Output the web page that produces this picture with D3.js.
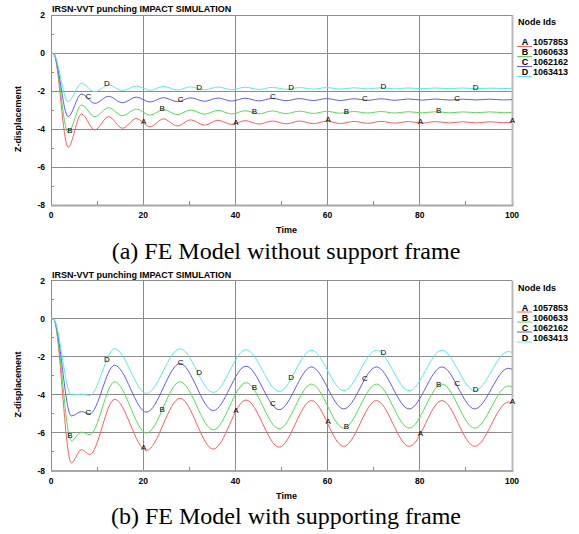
<!DOCTYPE html>
<html>
<head>
<meta charset="utf-8">
<script src="https://cdn.jsdelivr.net/npm/d3@7"></script>
<style>
  html, body { margin: 0; padding: 0; background: #ffffff; }
  svg { display: block; }
  .sans { font-family: "Liberation Sans", Arial, Helvetica, sans-serif; }
  .serif { font-family: "Liberation Serif", "Times New Roman", Times, serif; }
</style>
</head>
<body>
<svg id="chart" width="579" height="534"></svg>
<script>
// ---------- data ----------
const chartTitle = "IRSN-VVT punching IMPACT SIMULATION";
const captions = ["(a) FE Model without support frame", "(b) FE Model with supporting frame"];
const letters = ["A", "B", "C", "D"];
const nodeIds = ["1057853", "1060633", "1062162", "1063413"];
const xTicks = [0, 20, 40, 60, 80, 100];
const xMinorTicks = [10, 30, 50, 70, 90];
const yTicks = [2, 0, -2, -4, -6, -8];
const yMinorTicks = [1, -1, -3, -5, -7];
const labelTimesA = [20, 40, 60, 80, 100];
const labelTimesB = [4, 24, 44, 64, 84];
const labelTimesC = [8, 28, 48, 68, 88];
const labelTimesD = [12, 32, 52, 72, 92];

// (a) without support frame
const topTime  = [0, 0.6, 3.7, 6.6, 9.5, 12.5, 15.5, 18.5, 21.5, 24.4, 27.4, 30.3, 33.3, 36.2, 39.2, 42.1, 45.1, 48.0, 51.0, 53.9, 56.9, 59.8, 62.8, 65.7, 68.7, 71.6, 74.6, 77.5, 80.5, 83.4, 86.4, 89.3, 92.3, 95.2, 98.2, 100];
const topNodeA = [0, -0.05, -4.96, -3.21, -4.05, -3.35, -3.96, -3.45, -3.88, -3.47, -3.84, -3.52, -3.80, -3.54, -3.76, -3.56, -3.74, -3.58, -3.73, -3.58, -3.72, -3.59, -3.71, -3.60, -3.70, -3.60, -3.69, -3.61, -3.69, -3.61, -3.68, -3.62, -3.68, -3.62, -3.67, -3.64];
const topNodeB = [0, -0.05, -4.19, -2.74, -3.35, -2.88, -3.30, -2.95, -3.27, -2.98, -3.24, -3.00, -3.22, -3.02, -3.21, -3.04, -3.20, -3.05, -3.19, -3.06, -3.18, -3.07, -3.17, -3.08, -3.16, -3.08, -3.16, -3.09, -3.15, -3.09, -3.15, -3.10, -3.14, -3.10, -3.14, -3.12];
const topNodeC = [0, -0.05, -3.35, -2.16, -2.65, -2.28, -2.62, -2.32, -2.58, -2.35, -2.56, -2.36, -2.54, -2.37, -2.53, -2.38, -2.52, -2.39, -2.51, -2.40, -2.50, -2.40, -2.50, -2.41, -2.49, -2.41, -2.49, -2.42, -2.48, -2.42, -2.48, -2.43, -2.47, -2.43, -2.47, -2.45];
const topNodeD = [0, -0.05, -2.56, -1.60, -2.04, -1.68, -1.98, -1.74, -1.96, -1.76, -1.95, -1.78, -1.94, -1.79, -1.93, -1.80, -1.92, -1.81, -1.91, -1.82, -1.90, -1.82, -1.90, -1.83, -1.89, -1.83, -1.89, -1.84, -1.88, -1.84, -1.88, -1.84, -1.88, -1.85, -1.87, -1.86];

// (b) with supporting frame
const botTime  = [0, 0.6, 4.4, 6.6, 8.4, 13.8, 20.7, 28.0, 35.2, 42.3, 49.5, 56.5, 63.5, 70.6, 77.7, 84.8, 91.9, 99.2, 100];
const botNodeA = [0, -0.05, -7.6, -6.9, -7.16, -4.25, -6.94, -4.2, -6.87, -4.29, -6.77, -4.32, -6.73, -4.32, -6.73, -4.32, -6.73, -4.4, -4.44];
const botNodeB = [0, -0.05, -6.43, -5.98, -6.12, -3.33, -6.03, -3.33, -5.86, -3.38, -5.8, -3.45, -5.77, -3.45, -5.77, -3.45, -5.77, -3.55, -3.6];
const botNodeC = [0, -0.05, -5.13, -4.9, -5.02, -2.46, -4.93, -2.37, -4.85, -2.51, -4.8, -2.55, -4.76, -2.55, -4.76, -2.55, -4.76, -2.62, -2.67];
const botNodeD = [0, -0.05, -4.03, -3.98, -4.05, -1.59, -3.94, -1.59, -3.89, -1.64, -3.84, -1.67, -3.8, -1.67, -3.8, -1.67, -3.8, -1.74, -1.79];

const colors = ["#ff5c5c", "#52e052", "#5c5cf5", "#52eeee"];
const labelTimes = [labelTimesA, labelTimesB, labelTimesC, labelTimesD];

// ---------- drawing ----------
const svg = d3.select("#chart");

function drawPanel(offsetY, time, seriesList, caption) {
  const x = d3.scaleLinear().domain([0, 100]).range([51, 512]);
  const y = d3.scaleLinear().domain([-8, 2]).range([205 + offsetY, 15 + offsetY]);
  const g = svg.append("g");

  // grid
  g.selectAll(".vgrid").data(xTicks.slice(1, -1)).enter().append("line")
    .attr("x1", d => x(d)).attr("x2", d => x(d))
    .attr("y1", y(2)).attr("y2", y(-8))
    .attr("stroke", "#8c8c8c").attr("stroke-width", 1).attr("shape-rendering", "crispEdges");
  g.selectAll(".hgrid").data(yTicks.slice(1, -1)).enter().append("line")
    .attr("x1", x(0)).attr("x2", x(100))
    .attr("y1", d => y(d)).attr("y2", d => y(d))
    .attr("stroke", "#8c8c8c").attr("stroke-width", 1).attr("shape-rendering", "crispEdges");

  // frame
  g.append("line").attr("x1", x(0)).attr("x2", x(100)).attr("y1", y(2)).attr("y2", y(2))
    .attr("stroke", "#8c8c8c").attr("shape-rendering", "crispEdges");
  g.append("line").attr("x1", x(100) + 0.5).attr("x2", x(100) + 0.5).attr("y1", y(2)).attr("y2", y(-8))
    .attr("stroke", "#b8b8b8").attr("stroke-width", 2);
  g.append("line").attr("x1", x(0)).attr("x2", x(0)).attr("y1", y(2)).attr("y2", y(-8))
    .attr("stroke", "#8c8c8c").attr("shape-rendering", "crispEdges");
  g.append("line").attr("x1", x(0)).attr("x2", x(100) + 1.5).attr("y1", y(-8) + 0.5).attr("y2", y(-8) + 0.5)
    .attr("stroke", "#a8a8a8").attr("stroke-width", 2);

  // minor ticks
  g.selectAll(".ymin").data(yMinorTicks).enter().append("line")
    .attr("x1", x(0)).attr("x2", x(0) + 3).attr("y1", d => y(d)).attr("y2", d => y(d))
    .attr("stroke", "#8c8c8c").attr("shape-rendering", "crispEdges");
  g.selectAll(".xmin").data(xMinorTicks).enter().append("line")
    .attr("x1", d => x(d)).attr("x2", d => x(d)).attr("y1", y(-8)).attr("y2", y(-8) - 4)
    .attr("stroke", "#8c8c8c").attr("shape-rendering", "crispEdges");

  // tick labels
  g.selectAll(".ylab").data(yTicks).enter().append("text").attr("class", "sans")
    .attr("x", 45).attr("y", d => y(d) + 3)
    .attr("text-anchor", "end").attr("font-weight", "bold").attr("font-size", "8.5px")
    .text(d => d);
  g.selectAll(".xlab").data(xTicks).enter().append("text").attr("class", "sans")
    .attr("x", d => x(d)).attr("y", y(-8) + 13)
    .attr("text-anchor", "middle").attr("font-weight", "bold").attr("font-size", "8.5px")
    .text(d => d);

  // title
  g.append("text").attr("class", "sans").attr("x", 52).attr("y", 12 + offsetY)
    .attr("font-weight", "bold").attr("font-size", "9px")
    .text(chartTitle);

  // axis titles
  g.append("text").attr("class", "sans").attr("x", 286.5).attr("y", 233 + offsetY)
    .attr("text-anchor", "middle").attr("font-weight", "bold").attr("font-size", "9px")
    .text("Time");
  g.append("text").attr("class", "sans")
    .attr("transform", `translate(21, ${119 + offsetY}) rotate(-90)`)
    .attr("text-anchor", "middle").attr("font-weight", "bold").attr("font-size", "9px")
    .text("Z-displacement");

  // curves
  const line = d3.line().x(d => x(d[0])).y(d => y(d[1])).curve(d3.curveMonotoneX);
  seriesList.forEach((vals, i) => {
    const pts = time.map((t, k) => [t, vals[k]]);
    const path = g.append("path").datum(pts)
      .attr("d", line).attr("fill", "none").attr("stroke", colors[i]).attr("stroke-width", 1);
    const node = path.node();
    const total = node.getTotalLength();
    labelTimes[i].forEach(t => {
      const tx = x(t);
      let lo = 0, hi = total;
      for (let it = 0; it < 40; it++) {
        const mid = (lo + hi) / 2;
        if (node.getPointAtLength(mid).x < tx) lo = mid; else hi = mid;
      }
      const p = node.getPointAtLength((lo + hi) / 2);
      g.append("text").attr("class", "sans").attr("x", p.x + 0.5).attr("y", p.y + 1)
        .attr("text-anchor", "middle").attr("font-size", "8px")
        .attr("fill", "#000").text(letters[i]);
    });
  });

  // legend
  g.append("text").attr("class", "sans").attr("x", 518).attr("y", 25 + offsetY)
    .attr("font-weight", "bold").attr("font-size", "9px").text("Node Ids");
  letters.forEach((L, i) => {
    const by = 45 + i * 10 + offsetY;
    g.append("line").attr("x1", 517).attr("x2", 532).attr("y1", by + 1.5).attr("y2", by + 1.5)
      .attr("stroke", colors[i]).attr("stroke-width", 1);
    g.append("text").attr("class", "sans").attr("x", 525).attr("y", by).attr("text-anchor", "middle")
      .attr("font-weight", "bold").attr("font-size", "9px").text(L);
    g.append("text").attr("class", "sans").attr("x", 533).attr("y", by)
      .attr("font-weight", "bold").attr("font-size", "9px").text(nodeIds[i]);
  });

  // caption
  g.append("text").attr("class", "serif").attr("x", 286).attr("y", 258.5 + offsetY)
    .attr("text-anchor", "middle").attr("font-size", "24px").text(caption);
}

drawPanel(0, topTime, [topNodeA, topNodeB, topNodeC, topNodeD], captions[0]);
drawPanel(265.5, botTime, [botNodeA, botNodeB, botNodeC, botNodeD], captions[1]);
</script>
</body>
</html>
